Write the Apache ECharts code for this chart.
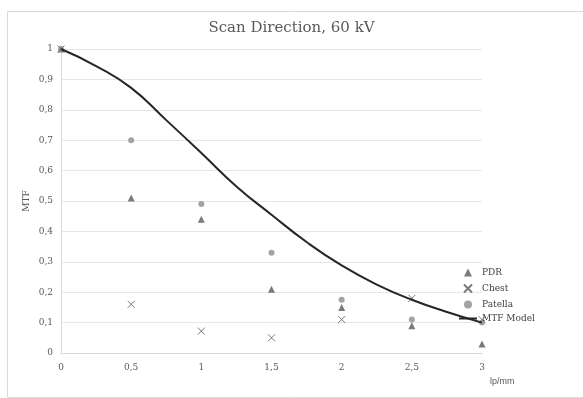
<!DOCTYPE html>
<html>
<head>
<meta charset="utf-8">
<script src="https://cdn.jsdelivr.net/npm/echarts@6/dist/echarts.min.js"></script>
<style>
html,body{margin:0;padding:0;background:#fff;}
#c{width:583px;height:398px;}
</style>
</head>
<body>
<div id="c"></div>
<script>
const lpValues = [0, 0.5, 1, 1.5, 2, 2.5, 3];
const pdrValues = [1, 0.51, 0.44, 0.21, 0.15, 0.09, 0.03];
const chestValues = [1, 0.16, 0.072, 0.05, 0.11, 0.18, 0.11];
const patellaValues = [1, 0.70, 0.49, 0.33, 0.175, 0.11, 0.10];
const modelX = [0, 0.25, 0.5, 0.75, 1, 1.25, 1.5, 1.75, 2, 2.25, 2.5, 2.75, 3];
const modelY = [1, 0.944, 0.872, 0.766, 0.658, 0.548, 0.455, 0.365, 0.288, 0.225, 0.175, 0.135, 0.10];

const pair = (xs, ys) => xs.map((x, i) => [x, ys[i]]);
const comma = v => String(Math.round(v * 10) / 10).replace('.', ',');
const serif = 'Georgia, "DejaVu Serif", serif';
const crossPath = 'path://M0,0L10,10M10,0L0,10';
const triPath = 'path://M0,10L5,0L10,10Z';
const linePath = 'path://M0,0h18v2h-18z';

const chart = echarts.init(document.getElementById('c'));
chart.setOption({
  animation: false,
  backgroundColor: '#fff',
  graphic: [{
    type: 'rect', left: 5, top: 9, shape: { width: 590, height: 386 },
    style: { fill: 'none', stroke: '#d9d9d9', lineWidth: 1 }, silent: true
  }],
  title: {
    text: 'Scan Direction, 60 kV', left: 'center', top: 16,
    textStyle: { fontFamily: serif, fontSize: 15, fontWeight: 'normal', color: '#595959' }
  },
  grid: { left: 61, right: 101, top: 49, bottom: 45 },
  legend: {
    orient: 'vertical', left: 454, top: 263, itemGap: 5, itemWidth: 18, itemHeight: 8,
    symbolKeepAspect: true,
    textStyle: { fontFamily: serif, fontSize: 9, color: '#404040' },
    data: [
      { name: 'PDR', icon: triPath },
      { name: 'Chest', icon: crossPath },
      { name: 'Patella', icon: 'circle' },
      { name: 'MTF Model', icon: linePath }
    ]
  },
  xAxis: {
    type: 'value', min: 0, max: 3, interval: 0.5,
    name: 'lp/mm', nameLocation: 'end', nameGap: 8,
    nameTextStyle: { fontFamily: 'sans-serif', fontSize: 9, color: '#595959', verticalAlign: 'top', padding: [24, 0, 0, 0] },
    axisLine: { lineStyle: { color: '#d9d9d9' } },
    axisTick: { show: false },
    splitLine: { show: false },
    axisLabel: { formatter: comma, fontFamily: serif, fontSize: 9, color: '#595959', margin: 10 }
  },
  yAxis: {
    type: 'value', min: 0, max: 1, interval: 0.1,
    name: 'MTF', nameLocation: 'middle', nameRotate: 90, nameGap: 30, nameMoveOverlap: false,
    nameTextStyle: { fontFamily: serif, fontSize: 9, color: '#595959' },
    axisLine: { show: true, lineStyle: { color: '#d9d9d9' } },
    axisTick: { show: false },
    splitLine: { lineStyle: { color: '#e6e6e6' } },
    axisLabel: { formatter: comma, fontFamily: serif, fontSize: 9, color: '#595959', margin: 8 }
  },
  series: [
    {
      name: 'MTF Model', type: 'line', smooth: true, symbol: 'none', z: 3,
      data: pair(modelX, modelY),
      lineStyle: { color: '#262626', width: 2 }, itemStyle: { color: '#262626' }
    },
    {
      name: 'PDR', type: 'scatter', symbol: 'triangle', symbolSize: 7,
      data: pair(lpValues, pdrValues), itemStyle: { color: '#595959' }
    },
    {
      name: 'Chest', type: 'scatter', symbol: crossPath, symbolSize: 7,
      data: pair(lpValues, chestValues),
      itemStyle: { color: 'none', borderColor: '#595959', borderWidth: 1 }
    },
    {
      name: 'Patella', type: 'scatter', symbol: 'circle', symbolSize: 6,
      data: pair(lpValues, patellaValues), itemStyle: { color: '#8c8c8c' }
    }
  ]
});
</script>
</body>
</html>
